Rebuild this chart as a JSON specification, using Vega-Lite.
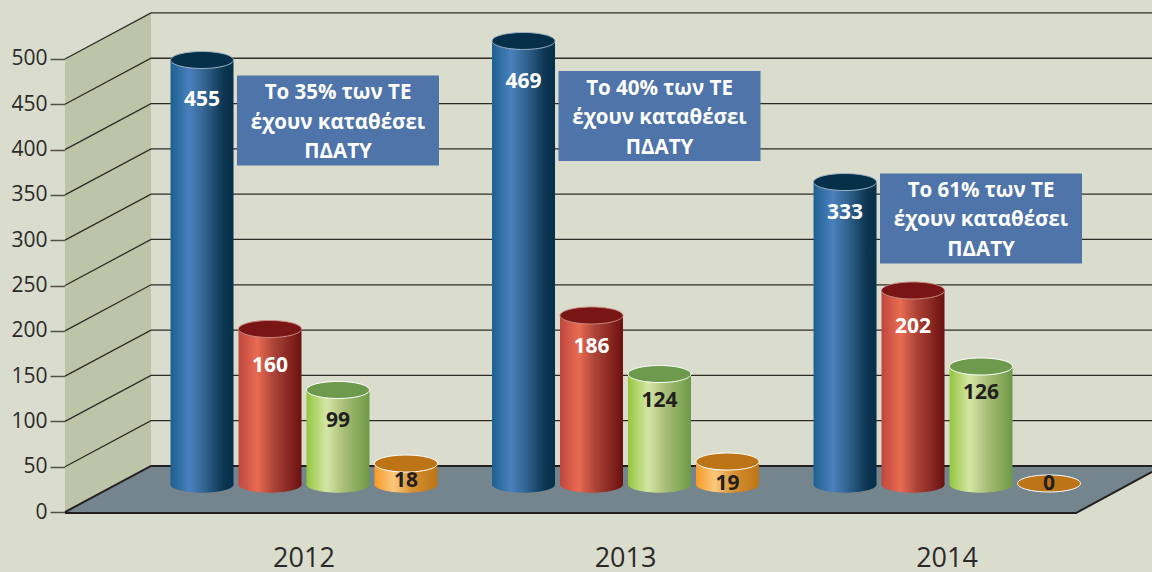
{
"$schema":"https://vega.github.io/schema/vega-lite/v6.json",
"width":1087,"height":572,"padding":{"left":65,"top":0,"right":0,"bottom":0},"autosize":{"type":"none"},
"background":"#dadccd",
"config":{"view":{"stroke":null},"font":"Open Sans"},
"datasets":{
"bars":[
{"year":"2012","series":"A","value":455,"top":498.9,"labelAt":454.7},
{"year":"2012","series":"B","value":160,"top":202,"labelAt":161},
{"year":"2012","series":"C","value":99,"top":134.7,"labelAt":100},
{"year":"2012","series":"D","value":18,"top":53.5,"labelAt":34},
{"year":"2013","series":"A","value":469,"top":519.9,"labelAt":475},
{"year":"2013","series":"B","value":186,"top":216.9,"labelAt":182},
{"year":"2013","series":"C","value":124,"top":152.3,"labelAt":122},
{"year":"2013","series":"D","value":19,"top":55.7,"labelAt":31},
{"year":"2014","series":"A","value":333,"top":364.2,"labelAt":330},
{"year":"2014","series":"B","value":202,"top":244.5,"labelAt":204},
{"year":"2014","series":"C","value":126,"top":160.6,"labelAt":131},
{"year":"2014","series":"D","value":0,"top":31.5,"labelAt":31}
],
"notes":[
{"year":"2012","level":432,"lines":["Το 35% των ΤΕ","έχουν καταθέσει","ΠΔΑΤΥ"]},
{"year":"2013","level":437,"lines":["Το 40% των ΤΕ","έχουν καταθέσει","ΠΔΑΤΥ"]},
{"year":"2014","level":324,"lines":["Το 61% των ΤΕ","έχουν καταθέσει","ΠΔΑΤΥ"]}
],
"wall":[{"d":65,"lo":0,"hi":500},{"d":151,"lo":50.8,"hi":550.8}],
"floor":[{"d":65,"lo":-1.1,"hi":0},{"d":151,"lo":-1.1,"hi":50.8},{"d":1076,"lo":-1.1,"hi":50.8},{"d":1152,"lo":44.2,"hi":50.8}],
"grid":[
{"k":50,"d":65,"v":50},{"k":50,"d":151,"v":100.8},{"k":50,"d":1152,"v":100.8},
{"k":100,"d":65,"v":100},{"k":100,"d":151,"v":150.8},{"k":100,"d":1152,"v":150.8},
{"k":150,"d":65,"v":150},{"k":150,"d":151,"v":200.8},{"k":150,"d":1152,"v":200.8},
{"k":200,"d":65,"v":200},{"k":200,"d":151,"v":250.8},{"k":200,"d":1152,"v":250.8},
{"k":250,"d":65,"v":250},{"k":250,"d":151,"v":300.8},{"k":250,"d":1152,"v":300.8},
{"k":300,"d":65,"v":300},{"k":300,"d":151,"v":350.8},{"k":300,"d":1152,"v":350.8},
{"k":350,"d":65,"v":350},{"k":350,"d":151,"v":400.8},{"k":350,"d":1152,"v":400.8},
{"k":400,"d":65,"v":400},{"k":400,"d":151,"v":450.8},{"k":400,"d":1152,"v":450.8},
{"k":450,"d":65,"v":450},{"k":450,"d":151,"v":500.8},{"k":450,"d":1152,"v":500.8},
{"k":500,"d":65,"v":500},{"k":500,"d":151,"v":550.8},{"k":500,"d":1152,"v":550.8}
],
"edges":[
{"k":"a","d":65,"v":0},{"k":"a","d":151,"v":50.8},{"k":"a","d":1152,"v":50.8},
{"k":"b","d":65,"v":-1.1},{"k":"b","d":1076,"v":-1.1},{"k":"b","d":1152,"v":44.2}
]
},
"layer":[
{"data":{"name":"wall"},"mark":{"type":"area","color":"#bec4a8"},
"encoding":{"x":{"field":"d","type":"quantitative","scale":{"domain":[65,1152],"nice":false,"zero":false},"axis":null},
"y":{"field":"lo","type":"quantitative","scale":{"domain":[-66.2,565.1],"nice":false,"zero":false},"axis":null},
"y2":{"field":"hi"}}},
{"data":{"name":"floor"},"mark":{"type":"area","color":"#74858d"},
"encoding":{"x":{"field":"d","type":"quantitative","scale":{"domain":[65,1152],"nice":false,"zero":false},"axis":null},
"y":{"field":"lo","type":"quantitative","scale":{"domain":[-66.2,565.1],"nice":false,"zero":false},"axis":null},
"y2":{"field":"hi"}}},
{"data":{"name":"grid"},"mark":{"type":"line","color":"#2e2b26","strokeWidth":1.3},
"encoding":{"x":{"field":"d","type":"quantitative","scale":{"domain":[65,1152],"nice":false,"zero":false},"axis":null},
"y":{"field":"v","type":"quantitative","scale":{"domain":[-66.2,565.1],"nice":false,"zero":false},"axis":null},
"detail":{"field":"k"}}},
{"data":{"name":"edges"},"mark":{"type":"line","color":"#231f20","strokeWidth":2},
"encoding":{"x":{"field":"d","type":"quantitative","scale":{"domain":[65,1152],"nice":false,"zero":false},"axis":null},
"y":{"field":"v","type":"quantitative","scale":{"domain":[-66.2,565.1],"nice":false,"zero":false},"axis":null},
"detail":{"field":"k"}}},
{"data":{"name":"notes"},"mark":{"type":"rect","color":"#4e74a9","width":202,"height":90,"xOffset":34},
"encoding":{"x":{"field":"year","type":"nominal","scale":{"type":"band","domain":["2012","2013","2014"],"range":[103,1018],"paddingInner":0.154,"paddingOuter":0},"axis":null},
"y":{"field":"level","type":"quantitative","scale":{"domain":[-66.2,565.1],"nice":false,"zero":false},"axis":null}}},
{"data":{"name":"notes"},"mark":{"type":"text","color":"#ffffff","font":"Open Sans","fontWeight":"bold","fontSize":20.5,"lineHeight":29.5,"dx":34,"dy":-27.5,"align":"center","baseline":"middle"},
"encoding":{"x":{"field":"year","type":"nominal","scale":{"type":"band","domain":["2012","2013","2014"],"range":[103,1018],"paddingInner":0.154,"paddingOuter":0},"axis":null},
"y":{"field":"level","type":"quantitative","scale":{"domain":[-66.2,565.1],"nice":false,"zero":false},"axis":null},
"text":{"field":"lines","type":"nominal"}}},
{"data":{"name":"bars"},"transform":[{"filter":"datum.series==='A'"}],
"mark":{"type":"point","filled":true,"opacity":1,"size":3969,"shape":"M-1,0A1,0.26,0,1,1,1,0A1,0.26,0,1,1,-1,0Z","color":{"gradient":"linear","x1":0,"x2":1,"y1":0,"y2":0,"stops":[{"offset":0,"color":"#1d6090"},{"offset":0.3,"color":"#4a80bd"},{"offset":0.55,"color":"#31628e"},{"offset":0.85,"color":"#0b3450"},{"offset":1,"color":"#062f4a"}]}},
"encoding":{"x":{"field":"year","type":"nominal","scale":{"type":"band","domain":["2012","2013","2014"],"range":[103,1018],"paddingInner":0.154,"paddingOuter":0},"axis":null},
"xOffset":{"field":"series","type":"nominal","scale":{"type":"point","domain":["A","B","C","D"],"padding":0.5}},
"y":{"datum":30.4,"type":"quantitative","scale":{"domain":[-66.2,565.1],"nice":false,"zero":false},"axis":null}}},
{"data":{"name":"bars"},"transform":[{"filter":"datum.series==='A'"}],
"mark":{"type":"bar","color":{"gradient":"linear","x1":0,"x2":1,"y1":0,"y2":0,"stops":[{"offset":0,"color":"#1d6090"},{"offset":0.3,"color":"#4a80bd"},{"offset":0.55,"color":"#31628e"},{"offset":0.85,"color":"#0b3450"},{"offset":1,"color":"#062f4a"}]}},
"encoding":{"x":{"field":"year","type":"nominal","scale":{"type":"band","domain":["2012","2013","2014"],"range":[103,1018],"paddingInner":0.154,"paddingOuter":0},"axis":null},
"xOffset":{"field":"series","type":"nominal","scale":{"domain":["A","B","C","D"],"paddingInner":0.0735,"paddingOuter":0.037}},
"y":{"field":"top","type":"quantitative","scale":{"domain":[-66.2,565.1],"nice":false,"zero":false},"axis":null},"y2":{"datum":30.4}}},
{"data":{"name":"bars"},"transform":[{"filter":"datum.series==='B'"}],
"mark":{"type":"point","filled":true,"opacity":1,"size":3969,"shape":"M-1,0A1,0.26,0,1,1,1,0A1,0.26,0,1,1,-1,0Z","color":{"gradient":"linear","x1":0,"x2":1,"y1":0,"y2":0,"stops":[{"offset":0,"color":"#c0473f"},{"offset":0.3,"color":"#e96b52"},{"offset":0.55,"color":"#ad4438"},{"offset":1,"color":"#6b1010"}]}},
"encoding":{"x":{"field":"year","type":"nominal","scale":{"type":"band","domain":["2012","2013","2014"],"range":[103,1018],"paddingInner":0.154,"paddingOuter":0},"axis":null},
"xOffset":{"field":"series","type":"nominal","scale":{"type":"point","domain":["A","B","C","D"],"padding":0.5}},
"y":{"datum":30.4,"type":"quantitative","scale":{"domain":[-66.2,565.1],"nice":false,"zero":false},"axis":null}}},
{"data":{"name":"bars"},"transform":[{"filter":"datum.series==='B'"}],
"mark":{"type":"bar","color":{"gradient":"linear","x1":0,"x2":1,"y1":0,"y2":0,"stops":[{"offset":0,"color":"#c0473f"},{"offset":0.3,"color":"#e96b52"},{"offset":0.55,"color":"#ad4438"},{"offset":1,"color":"#6b1010"}]}},
"encoding":{"x":{"field":"year","type":"nominal","scale":{"type":"band","domain":["2012","2013","2014"],"range":[103,1018],"paddingInner":0.154,"paddingOuter":0},"axis":null},
"xOffset":{"field":"series","type":"nominal","scale":{"domain":["A","B","C","D"],"paddingInner":0.0735,"paddingOuter":0.037}},
"y":{"field":"top","type":"quantitative","scale":{"domain":[-66.2,565.1],"nice":false,"zero":false},"axis":null},"y2":{"datum":30.4}}},
{"data":{"name":"bars"},"transform":[{"filter":"datum.series==='C'"}],
"mark":{"type":"point","filled":true,"opacity":1,"size":3969,"shape":"M-1,0A1,0.26,0,1,1,1,0A1,0.26,0,1,1,-1,0Z","color":{"gradient":"linear","x1":0,"x2":1,"y1":0,"y2":0,"stops":[{"offset":0,"color":"#94c63e"},{"offset":0.32,"color":"#d4e6a6"},{"offset":0.6,"color":"#a8bd76"},{"offset":1,"color":"#6d9a46"}]}},
"encoding":{"x":{"field":"year","type":"nominal","scale":{"type":"band","domain":["2012","2013","2014"],"range":[103,1018],"paddingInner":0.154,"paddingOuter":0},"axis":null},
"xOffset":{"field":"series","type":"nominal","scale":{"type":"point","domain":["A","B","C","D"],"padding":0.5}},
"y":{"datum":30.4,"type":"quantitative","scale":{"domain":[-66.2,565.1],"nice":false,"zero":false},"axis":null}}},
{"data":{"name":"bars"},"transform":[{"filter":"datum.series==='C'"}],
"mark":{"type":"bar","color":{"gradient":"linear","x1":0,"x2":1,"y1":0,"y2":0,"stops":[{"offset":0,"color":"#94c63e"},{"offset":0.32,"color":"#d4e6a6"},{"offset":0.6,"color":"#a8bd76"},{"offset":1,"color":"#6d9a46"}]}},
"encoding":{"x":{"field":"year","type":"nominal","scale":{"type":"band","domain":["2012","2013","2014"],"range":[103,1018],"paddingInner":0.154,"paddingOuter":0},"axis":null},
"xOffset":{"field":"series","type":"nominal","scale":{"domain":["A","B","C","D"],"paddingInner":0.0735,"paddingOuter":0.037}},
"y":{"field":"top","type":"quantitative","scale":{"domain":[-66.2,565.1],"nice":false,"zero":false},"axis":null},"y2":{"datum":30.4}}},
{"data":{"name":"bars"},"transform":[{"filter":"datum.series==='D' && datum.value>0"}],
"mark":{"type":"point","filled":true,"opacity":1,"size":3969,"shape":"M-1,0A1,0.26,0,1,1,1,0A1,0.26,0,1,1,-1,0Z","color":{"gradient":"linear","x1":0,"x2":1,"y1":0,"y2":0,"stops":[{"offset":0,"color":"#f59a28"},{"offset":0.3,"color":"#fbc87c"},{"offset":0.6,"color":"#d79032"},{"offset":1,"color":"#bc7414"}]}},
"encoding":{"x":{"field":"year","type":"nominal","scale":{"type":"band","domain":["2012","2013","2014"],"range":[103,1018],"paddingInner":0.154,"paddingOuter":0},"axis":null},
"xOffset":{"field":"series","type":"nominal","scale":{"type":"point","domain":["A","B","C","D"],"padding":0.5}},
"y":{"datum":30.4,"type":"quantitative","scale":{"domain":[-66.2,565.1],"nice":false,"zero":false},"axis":null}}},
{"data":{"name":"bars"},"transform":[{"filter":"datum.series==='D' && datum.value>0"}],
"mark":{"type":"bar","color":{"gradient":"linear","x1":0,"x2":1,"y1":0,"y2":0,"stops":[{"offset":0,"color":"#f59a28"},{"offset":0.3,"color":"#fbc87c"},{"offset":0.6,"color":"#d79032"},{"offset":1,"color":"#bc7414"}]}},
"encoding":{"x":{"field":"year","type":"nominal","scale":{"type":"band","domain":["2012","2013","2014"],"range":[103,1018],"paddingInner":0.154,"paddingOuter":0},"axis":null},
"xOffset":{"field":"series","type":"nominal","scale":{"domain":["A","B","C","D"],"paddingInner":0.0735,"paddingOuter":0.037}},
"y":{"field":"top","type":"quantitative","scale":{"domain":[-66.2,565.1],"nice":false,"zero":false},"axis":null},"y2":{"datum":30.4}}},
{"data":{"name":"bars"},"mark":{"type":"point","filled":true,"opacity":1,"strokeOpacity":1,"strokeWidth":1,"size":3969,"shape":"M-1,0A1,0.27,0,1,1,1,0A1,0.27,0,1,1,-1,0Z"},
"encoding":{"x":{"field":"year","type":"nominal","scale":{"type":"band","domain":["2012","2013","2014"],"range":[103,1018],"paddingInner":0.154,"paddingOuter":0},"axis":null},
"xOffset":{"field":"series","type":"nominal","scale":{"type":"point","domain":["A","B","C","D"],"padding":0.5}},
"y":{"field":"top","type":"quantitative","scale":{"domain":[-66.2,565.1],"nice":false,"zero":false},"axis":null},
"fill":{"field":"series","type":"nominal","legend":null,"scale":{"domain":["A","B","C","D"],"range":["#062f4a","#7a1515","#6e9a4e","#bd7416"]}},
"stroke":{"field":"series","type":"nominal","legend":null,"scale":{"domain":["A","B","C","D"],"range":["#9fb4c4","#c98a80","#ffffff","#ffffff"]}}}},
{"data":{"name":"bars"},"mark":{"type":"text","font":"Open Sans","fontWeight":"bold","fontSize":21,"baseline":"middle"},
"encoding":{"x":{"field":"year","type":"nominal","scale":{"type":"band","domain":["2012","2013","2014"],"range":[103,1018],"paddingInner":0.154,"paddingOuter":0},
"axis":{"title":null,"orient":"bottom","offset":-14,"domain":false,"ticks":false,"labelAngle":0,"labelFont":"Open Sans","labelFontSize":27,"labelColor":"#2b2a29","labelPadding":0,"labelBaseline":"middle"}},
"xOffset":{"field":"series","type":"nominal","scale":{"type":"point","domain":["A","B","C","D"],"padding":0.5}},
"y":{"field":"labelAt","type":"quantitative","scale":{"domain":[-66.2,565.1],"nice":false,"zero":false},
"axis":{"title":null,"orient":"left","values":[0,50,100,150,200,250,300,350,400,450,500],"domain":false,"grid":false,"tickSize":15,"tickColor":"#555045","tickWidth":1.5,"labelFont":"Open Sans","labelFontSize":21,"labelColor":"#2b2a29","labelPadding":3}},
"text":{"field":"value","type":"quantitative"},
"color":{"field":"series","type":"nominal","legend":null,"scale":{"domain":["A","B","C","D"],"range":["#ffffff","#ffffff","#231f20","#231f20"]}}}}
],
"resolve":{"scale":{"x":"independent","xOffset":"independent","color":"independent","fill":"independent","stroke":"independent"},"axis":{"y":"independent"}}
}
